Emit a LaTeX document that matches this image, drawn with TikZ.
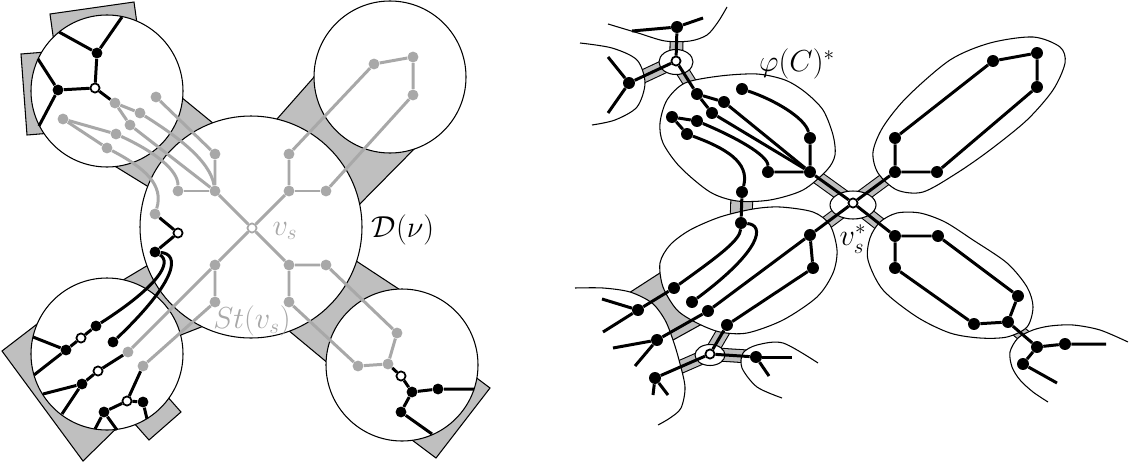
\documentclass[tikz,border=0pt]{standalone}
\usepackage{amsmath}
\definecolor{lgray}{gray}{0.66}
\definecolor{bgray}{gray}{0.75}
\pgfdeclarelayer{bands}
\pgfdeclarelayer{blobs}
\pgfsetlayers{bands,blobs,main}

\begin{document}
\begin{tikzpicture}[
  x=0.02cm, y=-0.02cm,
  bdot/.style={circle, fill=black, inner sep=0pt, minimum size=6.2pt},
  gdot/.style={circle, fill=lgray, inner sep=0pt, minimum size=6.2pt},
  wdot/.style={circle, draw=black, fill=white, line width=1pt, inner sep=0pt, minimum size=5.2pt},
  vdot/.style={wdot, draw=lgray},
  rdot/.style={bdot, minimum size=6.8pt},
  edge/.style={line width=1.7pt},
  gedge/.style={line width=1.7pt, lgray},
  disc/.style={draw=black, line width=0.6pt, fill=white},
  rim/.style={draw=black, line width=0.6pt},
  patch/.style={draw=black, line width=0.6pt, fill=bgray},
  band/.style={draw=black, line width=0.6pt, double=bgray, double distance=6.7pt},
  lbl/.style={font=\fontsize{17}{20}\selectfont, inner sep=0pt}
]
\useasboundingbox (0,0) rectangle (1131,463);

% ---------------- left: D(nu) and the four neighbouring discs
\begin{pgfonlayer}{bands}
  \draw[patch] (170,88) -- (225,133) -- (165,197) -- (100,157) -- cycle;
  \draw[patch] (262,136) -- (330,59) -- (425,138) -- (345,219) -- cycle;
  \draw[patch] (108,289) -- (165,255) -- (219,320) -- (163,342) -- cycle;
  \draw[patch] (341,251) -- (417,301) -- (341,374) -- (276,320) -- cycle;
  \draw[patch] (50,14) -- (134,2) -- (141,52) -- (57,64) -- cycle;
  \draw[patch] (21,54) -- (71,50) -- (77,131) -- (27,135) -- cycle;
  \draw[patch] (2,351) -- (45,318) -- (125,420) -- (83,461) -- cycle;
  \draw[patch] (149,440) -- (181,412) -- (158,386) -- (126,414) -- cycle;
  \draw[patch] (490,388) -- (436,458) -- (404,434) -- (458,364) -- cycle;
\end{pgfonlayer}
\begin{pgfonlayer}{blobs}
  \draw[disc] (251,227) circle[radius=111];
  \draw[disc] (107,91) circle[radius=76];
  \draw[disc] (390,77) circle[radius=76];
  \draw[disc] (107,354) circle[radius=76];
  \draw[disc] (402,365) circle[radius=76];
\end{pgfonlayer}

% top-left disc
\node[bdot] (t1) at (97,53) {};
\node[bdot] (t2) at (58,90) {};
\node[wdot] (t0) at (95,88) {};
\coordinate (t1a) at (59,32);
\coordinate (t1b) at (122,17);
\coordinate (t2a) at (38,59);
\coordinate (t2b) at (39,126);
\node[gdot] (g1) at (115,103) {};
\node[gdot] (g2) at (156,97) {};
\node[gdot] (g3) at (140,113) {};
\node[gdot] (g4) at (130,125) {};
\node[gdot] (g5) at (63,119) {};
\node[gdot] (g6) at (116,134) {};
\node[gdot] (g7) at (107,148) {};

% big disc
\node[vdot] (vs) at (252,228) {};
\node[gdot] (h1) at (215,154) {};
\node[gdot] (h2) at (215,191) {};
\node[gdot] (h3) at (178,191) {};
\node[gdot] (h4) at (155,214) {};
\node[gdot] (h5) at (289,154) {};
\node[gdot] (h6) at (289,191) {};
\node[gdot] (h7) at (326,191) {};
\node[gdot] (k1) at (289,265) {};
\node[gdot] (k2) at (326,265) {};
\node[gdot] (k3) at (289,302) {};
\node[gdot] (m1) at (215,265) {};
\node[gdot] (m2) at (215,302) {};
\node[wdot] (w1) at (178,233) {};
\node[bdot] (w2) at (155,252) {};

% top-right disc
\node[gdot] (r1) at (374,64) {};
\node[gdot] (r2) at (413,57) {};
\node[gdot] (r3) at (413,95) {};

% bottom-right disc
\node[gdot] (s1) at (397,333) {};
\node[gdot] (s2) at (358,366) {};
\node[gdot] (s3) at (388,364) {};
\node[wdot] (sw) at (401,376) {};
\node[bdot] (s4) at (412,392) {};
\node[bdot] (s5) at (438,389) {};
\node[bdot] (s6) at (401,412) {};
\coordinate (s5a) at (474,389);
\coordinate (s6a) at (432,434);

% bottom-left disc
\node[bdot] (b1) at (96,326) {};
\node[wdot] (b2) at (81,338) {};
\node[bdot] (b3) at (66,350) {};
\node[bdot] (b4) at (113,342) {};
\node[gdot] (b5) at (128,352) {};
\node[gdot] (b6) at (143,366) {};
\node[wdot] (b7) at (98,371) {};
\node[bdot] (b8) at (82,384) {};
\node[wdot] (b9) at (127,401) {};
\node[bdot] (b10) at (143,402) {};
\node[bdot] (b11) at (104,412) {};
\coordinate (b3a) at (33,337);
\coordinate (b3b) at (34,375);
\coordinate (b8a) at (43,394);
\coordinate (b8b) at (62,414);
\coordinate (b10a) at (147,419);
\coordinate (b11a) at (95,429);
\coordinate (b11b) at (117,430);

\draw[gedge] (g1) -- (g3);
\draw[gedge] (g1) -- (g4);
\draw[gedge] (g5) -- (g6);
\draw[gedge] (g5) -- (g7);
\draw[gedge] (g2) -- (h1);
\draw[gedge] (g4) -- (h2);
\draw[gedge] (g3) .. controls (175,135) and (210,160) .. (h2);
\draw[gedge] (g6) .. controls (155,152) and (178,170) .. (h3);
\draw[gedge] (g7) .. controls (145,168) and (164,185) .. (h4);
\draw[gedge] (h1) -- (h2) -- (vs);
\draw[gedge] (h3) -- (h2);
\draw[gedge] (h5) -- (h6) -- (vs);
\draw[gedge] (h6) -- (h7);
\draw[gedge] (h5) -- (r1) -- (r2) -- (r3) -- (h7);
\draw[gedge] (vs) -- (k1) -- (k2) -- (s1) -- (s3) -- (s2) -- (k3) -- (k1);
\draw[gedge] (vs) -- (m1) -- (b5);
\draw[gedge] (m1) -- (m2) -- (b6);

\draw[edge] (t1) -- (t1a);
\draw[edge] (t1) -- (t1b);
\draw[edge] (t1) -- (t0) -- (t2);
\draw[edge] (t2) -- (t2a);
\draw[edge] (t2) -- (t2b);
\draw[edge] (t0) -- (g1);
\draw[edge] (h4) -- (w1) -- (w2);
\draw[edge] (w2) .. controls (172,262) and (160,285) .. (b1);
\draw[edge] (w2) .. controls (180,254) and (178,280) .. (b4);
\draw[edge] (b1) -- (b2) -- (b3);
\draw[edge] (b3) -- (b3a);
\draw[edge] (b3) -- (b3b);
\draw[edge] (b5) -- (b7) -- (b8);
\draw[edge] (b8) -- (b8a);
\draw[edge] (b8) -- (b8b);
\draw[edge] (b6) -- (b9) -- (b10) -- (b10a);
\draw[edge] (b9) -- (b11);
\draw[edge] (b11) -- (b11a);
\draw[edge] (b11) -- (b11b);
\draw[edge] (s3) -- (sw) -- (s4) -- (s5) -- (s5a);
\draw[edge] (s4) -- (s6) -- (s6a);

\node[lbl, text=lgray] (lvs) at (285,231) {$v_s$};
\node[lbl] (lD) at (403,230) {$\mathcal{D}(\nu)$};
\node[lbl, text=lgray] (lst) at (252,321) {$St(v_s)$};

% ---------------- right: the dual picture
\node[rdot] (e1) at (677,27) {};
\node[wdot] (wa) at (676,61) {};
\node[rdot] (f1) at (629,83) {};
\coordinate (e1a) at (632,31);
\coordinate (e1b) at (703,18);
\coordinate (f1a) at (608,57);
\coordinate (f1b) at (608,113);

\node[rdot] (a1) at (697,94) {};
\node[rdot] (a2) at (724,102) {};
\node[rdot] (a3) at (712,113) {};
\node[rdot] (a4) at (742,89) {};
\node[rdot] (a5) at (672,117) {};
\node[rdot] (a6) at (697,121) {};
\node[rdot] (a7) at (687,134) {};
\node[rdot] (a8) at (810,138) {};
\node[rdot] (a9) at (768,172) {};
\node[rdot] (a10) at (810,172) {};
\node[rdot] (a11) at (742,192) {};

\node[wdot] (vsd) at (853,203) {};

\node[rdot] (n0) at (895,172) {};
\node[rdot] (n1) at (895,138) {};
\node[rdot] (n2) at (937,172) {};
\node[rdot] (n3) at (993,61) {};
\node[rdot] (n4) at (1037,53) {};
\node[rdot] (n5) at (1037,87) {};

\node[rdot] (c0) at (895,236) {};
\node[rdot] (c1) at (938,236) {};
\node[rdot] (c2) at (895,268) {};
\node[rdot] (c3) at (1018,296) {};
\node[rdot] (c4) at (1008,322) {};
\node[rdot] (c5) at (974,324) {};
\node[rdot] (i1) at (1037,347) {};
\node[rdot] (i2) at (1065,344) {};
\node[rdot] (i3) at (1023,364) {};
\coordinate (i2a) at (1106,344);
\coordinate (i3a) at (1057,383);

\node[rdot] (d0) at (741,223) {};
\node[rdot] (d1) at (674,288) {};
\node[rdot] (d2) at (692,302) {};
\node[rdot] (d3) at (708,311) {};
\node[rdot] (d4) at (727,325) {};
\node[rdot] (d5) at (810,235) {};
\node[rdot] (d6) at (813,268) {};

\node[rdot] (x1) at (638,310) {};
\node[rdot] (x2) at (657,340) {};
\node[rdot] (x3) at (655,378) {};
\node[wdot] (wb) at (710,354) {};
\node[rdot] (y1) at (756,357) {};
\coordinate (x1a) at (602,299);
\coordinate (x1b) at (603,332);
\coordinate (x2a) at (613,348);
\coordinate (x2b) at (635,366);
\coordinate (x3a) at (653,395);
\coordinate (x3b) at (668,395);
\coordinate (y1a) at (792,357);
\coordinate (y1b) at (769,376);

\begin{pgfonlayer}{bands}
  \draw[band] (e1) -- (wa);
  \draw[band] (wa) -- (f1);
  \draw[band] (wa) -- (a1);
  \draw[band] (a10) -- (vsd);
  \draw[band] (n0) -- (vsd);
  \draw[band] (c0) -- (vsd);
  \draw[band] (d5) -- (vsd);
  \draw[band] (c4) -- (i1);
  \draw[band] (wb) -- (d4);
  \draw[band] (wb) -- (x3);
  \draw[band] (wb) -- (y1);
  \draw[band, double distance=11.8pt] (a11) -- (d0);
  \draw[patch] (615,302) -- (680,260) -- (720,314) -- (655,350) -- cycle;
\end{pgfonlayer}

\begin{pgfonlayer}{blobs}
  % closed blobs
  \draw[disc] plot[smooth cycle] coordinates {(667,100) (685,83) (720,76) (757,74) (785,80) (805,92) (823,110) (833,135) (835,155) (827,170) (803,190) (770,200) (737,201) (710,192) (680,167) (663,143) (660,123)};
  \draw[disc] plot[smooth cycle] coordinates {(873,152) (883,127) (907,97) (950,60) (990,43) (1033,37) (1060,47) (1065,63) (1053,90) (1027,120) (990,150) (957,173) (923,192) (897,190) (878,173)};
  \draw[disc] plot[smooth cycle] coordinates {(868,260) (870,238) (880,222) (897,213) (920,213) (945,222) (973,240) (1007,263) (1027,287) (1033,307) (1027,327) (1007,337) (980,338) (950,333) (917,317) (883,290)};
  \draw[disc] plot[smooth cycle] coordinates {(660,263) (670,245) (690,230) (720,217) (753,209) (780,207) (813,212) (830,225) (837,250) (833,273) (817,297) (783,320) (747,333) (720,332) (697,323) (677,310) (663,287)};
  \draw[disc] (676,62) ellipse[x radius=17, y radius=12.5];
  \draw[disc] (853,205) ellipse[x radius=23, y radius=14];
  \draw[disc] (710,355) ellipse[x radius=15, y radius=10.5];
  % open blobs at the border
  \fill[white] plot[smooth] coordinates {(608,24) (638,33) (665,41) (690,41) (707,35) (718,22) (727,7)} -- (740,0) -- (595,0) -- cycle;
  \draw[rim] plot[smooth] coordinates {(608,24) (638,33) (665,41) (690,41) (707,35) (718,22) (727,7)};
  \fill[white] plot[smooth] coordinates {(580,43) (612,48) (637,60) (645,83) (637,107) (615,120) (592,125)} -- (565,130) -- (565,40) -- cycle;
  \draw[rim] plot[smooth] coordinates {(580,43) (612,48) (637,60) (645,83) (637,107) (615,120) (592,125)};
  \fill[white] plot[smooth] coordinates {(575,288) (603,288) (630,292) (652,303) (665,320) (673,340) (679,360) (685,387) (681,408) (670,418) (658,425)} -- (560,440) -- (560,288) -- cycle;
  \draw[rim] plot[smooth] coordinates {(575,288) (603,288) (630,292) (652,303) (665,320) (673,340) (679,360) (685,387) (681,408) (670,418) (658,425)};
  \fill[white] plot[smooth] coordinates {(818,363) (783,343) (757,345) (743,353) (742,368) (757,387) (782,398)} -- (810,400) -- (830,370) -- cycle;
  \draw[rim] plot[smooth] coordinates {(818,363) (783,343) (757,345) (743,353) (742,368) (757,387) (782,398)};
  \fill[white] plot[smooth] coordinates {(1128,342) (1100,330) (1073,325) (1050,326) (1033,330) (1018,338) (1010,352) (1012,367) (1020,380) (1033,392) (1048,402)} -- (1131,420) -- (1131,340) -- cycle;
  \draw[rim] plot[smooth] coordinates {(1128,342) (1100,330) (1073,325) (1050,326) (1033,330) (1018,338) (1010,352) (1012,367) (1020,380) (1033,392) (1048,402)};
\end{pgfonlayer}

\draw[edge] (e1) -- (e1a);
\draw[edge] (e1) -- (e1b);
\draw[edge] (e1) -- (wa) -- (f1);
\draw[edge] (f1) -- (f1a);
\draw[edge] (f1) -- (f1b);
\draw[edge] (wa) -- (a1);
\draw[edge] (a2) -- (a1) -- (a3);
\draw[edge] (a2) -- (a10);
\draw[edge] (a3) -- (a10);
\draw[edge] (a4) .. controls (775,100) and (805,118) .. (a8) -- (a10);
\draw[edge] (a6) -- (a5) -- (a7);
\draw[edge] (a6) .. controls (735,137) and (768,155) .. (a9) -- (a10);
\draw[edge] (a7) .. controls (725,148) and (750,162) .. (a11) -- (d0);
\draw[edge] (a10) -- (vsd);
\draw[edge] (vsd) -- (n0) -- (n1) -- (n3) -- (n4) -- (n5) -- (n2) -- (n0);
\draw[edge] (vsd) -- (c0) -- (c1) -- (c3) -- (c4) -- (c5) -- (c2) -- (c0);
\draw[edge] (c4) -- (i1) -- (i2) -- (i2a);
\draw[edge] (i1) -- (i3) -- (i3a);
\draw[edge] (vsd) -- (d5) -- (d6) -- (d4);
\draw[edge] (d5) -- (d3);
\draw[edge] (d0) .. controls (740,240) and (720,255) .. (d1);
\draw[edge] (d0) .. controls (765,225) and (762,250) .. (d2);
\draw[edge] (d1) -- (x1);
\draw[edge] (d3) -- (x2);
\draw[edge] (d4) -- (wb) -- (x3);
\draw[edge] (wb) -- (y1);
\draw[edge] (x1) -- (x1a);
\draw[edge] (x1) -- (x1b);
\draw[edge] (x2) -- (x2a);
\draw[edge] (x2) -- (x2b);
\draw[edge] (x3) -- (x3a);
\draw[edge] (x3) -- (x3b);
\draw[edge] (y1) -- (y1a);
\draw[edge] (y1) -- (y1b);

\node[lbl] (lphi) at (797,64) {$\varphi(C)^*$};
\node[lbl] (lvsd) at (853,239) {$v_s^*$};
\end{tikzpicture}
\end{document}
